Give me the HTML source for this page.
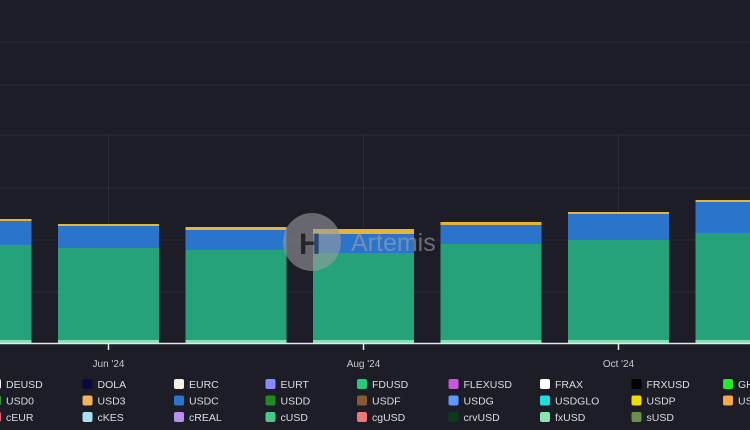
<!DOCTYPE html>
<html><head><meta charset="utf-8"><style>
html,body{margin:0;padding:0;background:#1c1d27;}
body{width:750px;height:430px;overflow:hidden;font-family:"Liberation Sans",sans-serif;}
svg{display:block}
</style></head><body>
<svg id="chart" width="750" height="430">
  <rect x="0" y="0" width="750" height="430" fill="#1c1d27"/>
  <g id="grid"></g>
  <g id="bars"></g>
  <g opacity="0.6">
    <circle cx="312" cy="242" r="29" fill="#9a9aa0"/>
    <text x="299" y="254" font-size="30" font-weight="bold" fill="#2a2a30">H</text>
    <text x="351" y="251" font-size="25" fill="#a2a2aa">Artemis</text>
  </g>
  <g id="axis"></g>
  <g id="legend"></g>
</svg>
<script>
const categories = ["May '24","Jun '24","Jul '24","Aug '24","Sep '24","Oct '24","Nov '24"];
const fxUSD = [0.3,0.3,0.3,0.3,0.3,0.3,0.3];
const cUSD  = [9.5,9.2,9.0,8.7,9.6,10.0,10.7];
const USDC  = [2.4,2.2,2.0,1.9,1.9,2.6,3.1];
const USDP  = [0.2,0.2,0.3,0.5,0.3,0.2,0.2];
const tickLabels = ["Jun '24","Aug '24","Oct '24"];
const tickIndex = [1,3,5];

const NS="http://www.w3.org/2000/svg";
const baseY=343, pxPerUnit=10;
const y = v => baseY - v*pxPerUnit;
const slot=127.5, firstCenter=-19, barW=101;
const xc = i => firstCenter + i*slot;
function mk(tag, attrs, parent){const e=document.createElementNS(NS,tag);for(const k in attrs)e.setAttribute(k,attrs[k]);parent.appendChild(e);return e;}

const grid=document.getElementById('grid');
[42,85,135,188,240,292].forEach(gy=>{
  const l=mk('line',{x1:0,x2:750,y1:gy,y2:gy,stroke:'#2a2c37','stroke-width':1},grid);
  
  
});
tickIndex.forEach(ti=>{
  const l=mk('line',{x1:xc(ti),x2:xc(ti),y1:135,y2:343,stroke:'#2a2c37','stroke-width':1},grid);
  
  
});

const series=[["fxUSD",fxUSD,"#7fe3b0"],["cUSD",cUSD,"#26a27b"],["USDC",USDC,"#2a74cc"],["USDP",USDP,"#e9b530"]];
const bars=document.getElementById('bars');
categories.forEach((c,i)=>{
  let acc=0;
  const g=mk('g',{},bars);
  
  
  series.forEach(([name,vals,col])=>{
    const v=vals[i];
    const r=mk('rect',{x:xc(i)-barW/2,y:y(acc+v),width:barW,height:v*pxPerUnit,fill:col},g);
    
    
    acc+=v;
  });
});

const axis=document.getElementById('axis');
const al=mk('line',{x1:0,x2:750,y1:343.5,y2:343.5,stroke:'#e6e6e6','stroke-width':1.5},axis);


tickIndex.forEach((ti,k)=>{
  const t=mk('line',{x1:xc(ti),x2:xc(ti),y1:344,y2:350,stroke:'#e6e6e6','stroke-width':1.5},axis);
  
  
  const tx=mk('text',{x:xc(ti),y:367,'text-anchor':'middle','font-size':10,fill:'#c8c8cc'},axis);
  tx.textContent=tickLabels[k];
  
  
});

const legendRows=[
 [["DEUSD","#f4f4f4"],["DOLA","#0a0a3e"],["EURC","#f2efe6"],["EURT","#8a88ff"],["FDUSD","#22cc77"],["FLEXUSD","#cc55dd"],["FRAX","#ffffff"],["FRXUSD","#000000"],["GHO","#22ee22"]],
 [["USD0","#2e9a3c"],["USD3","#f4b25a"],["USDC","#2a75d0"],["USDD","#238a23"],["USDF","#8b5a2b"],["USDG","#5b9bff"],["USDGLO","#22dddd"],["USDP","#eedd00"],["USDS","#f4a84a"]],
 [["cEUR","#ee6666"],["cKES","#a8e0f5"],["cREAL","#b88ef0"],["cUSD","#44c98a"],["cgUSD","#ee7777"],["crvUSD","#0b3a1e"],["fxUSD","#86e8b0"],["sUSD","#6a8f4a"]]
];
const legend=document.getElementById('legend');
legendRows.forEach((row,r)=>{
  row.forEach(([name,col],c)=>{
    const lx=-9+c*91.5, ly=384+r*16.5;
    const g=mk('g',{},legend);
    
    
    mk('rect',{x:lx,y:ly-5,width:10,height:10,rx:2,fill:col},g);
    const t=mk('text',{x:lx+15,y:ly+4,'font-size':10.5,fill:'#dcdce0'},g);
    t.textContent=name;
  });
});
</script>
</body></html>
